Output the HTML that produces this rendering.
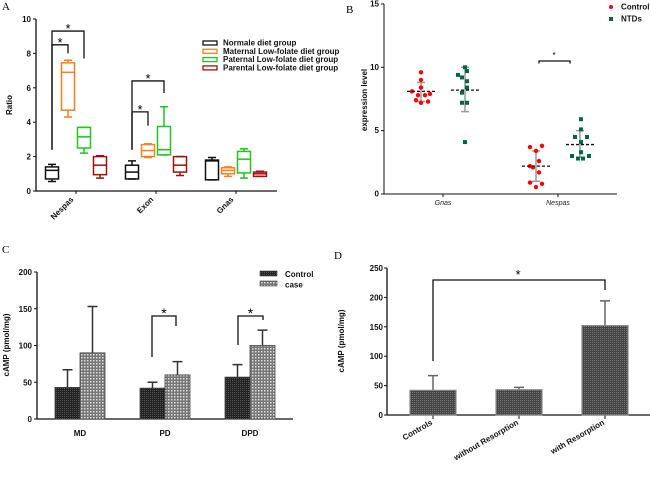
<!DOCTYPE html>
<html><head><meta charset="utf-8"><style>
body{margin:0;background:#fff}
svg{display:block;font-family:"Liberation Sans",Arial,sans-serif}
.t{font-size:8px;font-weight:bold;fill:#111}
.s{fill:none;stroke:#111;stroke-width:1.3}
</style></head><body>
<svg id="fig" width="650" height="482" viewBox="0 0 650 482" xmlns="http://www.w3.org/2000/svg">
<defs>
<pattern id="pdark" width="2" height="2" patternUnits="userSpaceOnUse"><rect width="2" height="2" fill="#222"/><rect width="1" height="1" fill="#555"/></pattern>
<pattern id="plight" width="3" height="3" patternUnits="userSpaceOnUse"><rect width="3" height="3" fill="#777"/><rect width="1.5" height="1.5" fill="#ddd"/></pattern>
<pattern id="pmid" width="2" height="2" patternUnits="userSpaceOnUse"><rect width="2" height="2" fill="#444"/><rect width="1" height="1" fill="#777"/></pattern>
</defs>
<g id="A"></g>
<g id="B"></g>
<g id="C"></g>
<g id="D"></g>
</svg>
<script>
// ---- Panel A data
const aCategories=["Nespas","Exon","Gnas"];
const aGroups=["Normale diet group","Maternal Low-folate diet group","Paternal Low-folate diet group","Parental Low-folate diet group"];
const aTicks=[0,2,4,6,8,10];
const aNespas=[[0.55,0.7,1.2,1.4,1.55],[4.3,4.7,6.9,7.45,7.6],[2.2,2.5,3.15,3.7,3.7],[0.75,0.95,1.5,2.0,2.05]];
const aExon=[[0.7,0.7,1.1,1.5,1.75],[1.95,2.0,2.35,2.7,2.75],[2.1,2.1,2.4,3.75,4.9],[0.9,1.1,1.5,2.0,2.0]];
const aGnas=[[0.65,0.65,1.75,1.8,1.95],[0.85,1.0,1.2,1.35,1.4],[0.75,1.05,1.85,2.3,2.45],[0.85,0.85,1.0,1.1,1.15]];
// ---- Panel B data
const bCategories=["Gnas","Nespas"];
const bSeries=["Control","NTDs"];
const bTicks=[0,5,10,15];
const bGnasControl=[8.1,9.6,9.0,8.4,7.8,7.8,7.9,7.4,7.2,7.3];
const bGnasNTDs=[10,9.7,9.4,9.2,8.9,8.4,8.0,7.2,7.2,4.1];
const bNespasControl=[3.7,3.8,3.4,2.6,2.2,2.1,1.7,0.9,0.8,0.55];
const bNespasNTDs=[5.9,5.1,4.5,4.5,4.1,3.3,3.0,3.0,2.8,2.8];
const bMeans=[[8.1,8.2],[2.2,3.9]];
const bErrLow=[[7.3,6.5],[1.0,2.9]];
const bErrHigh=[[8.8,10],[3.4,5.0]];
// ---- Panel C data
const cCategories=["MD","PD","DPD"];
const cSeries=["Control","case"];
const cTicks=[0,50,100,150,200];
const cControl=[43,42,57];
const cControlErr=[67,50,74];
const cCase=[90,60,100];
const cCaseErr=[153,78,121];
// ---- Panel D data
const dCategories=["Controls","without Resorption","with Resorption"];
const dTicks=[0,50,100,150,200,250];
const dValues=[42,43,152];
const dErr=[67,47,194];

const NS="http://www.w3.org/2000/svg";
function mk(p,tag,attrs,txt){const e=document.createElementNS(NS,tag);for(const k in attrs)e.setAttribute(k,attrs[k]);if(txt!==undefined)e.textContent=txt;p.appendChild(e);return e;}

// ===== Panel A
(function(){
const g=document.getElementById('A');
const y=v=>191-v*17.2, x0=36, x1=277;
const cx=i=>76+i*80, off=[-24,-8,8,24], cols=["#111","#ff7f1e","#22c422","#a01010"];
let t=mk(g,'text',{x:2,y:10,'font-family':'Liberation Serif',"font-size":11},"A");

let ax=mk(g,'path',{d:`M${x0} ${y(10)}V191H${x1}`,class:'s'});

aTicks.forEach(v=>{mk(g,'line',{x1:x0-3,x2:x0,y1:y(v),y2:y(v),stroke:'#111'});
 let l=mk(g,'text',{x:x0-5,y:y(v)+3,'text-anchor':'end',class:'t'},v);
 });
let yl=mk(g,'text',{x:12,y:105,transform:'rotate(-90 12 105)','text-anchor':'middle',class:'t','font-size':9},"Ratio");

const data=[aNespas,aExon,aGnas];
aCategories.forEach((c,i)=>{
 mk(g,'line',{x1:cx(i),x2:cx(i),y1:191,y2:194,stroke:'#111'});
 let l=mk(g,'text',{x:cx(i)-2,y:200,transform:`rotate(-45 ${cx(i)-2} 200)`,'text-anchor':'end',class:'t'},c);
 
 data[i].forEach((b,j)=>{
  const xc=cx(i)+off[j],w=13,col=cols[j];
  const bg=mk(g,'g',{stroke:col,'stroke-width':1.5,fill:'none'});
  
  mk(bg,'path',{d:`M${xc} ${y(b[0])}V${y(b[1])}M${xc} ${y(b[3])}V${y(b[4])}M${xc-4} ${y(b[0])}H${xc+4}M${xc-4} ${y(b[4])}H${xc+4}`});
  mk(bg,'rect',{x:xc-w/2,y:y(b[3]),width:w,height:Math.max(0.5,y(b[1])-y(b[3]))});
  mk(bg,'line',{x1:xc-w/2,x2:xc+w/2,y1:y(b[2]),y2:y(b[2])});
 });
});
function br(xa,xb,yt,ya,yb){let p=mk(g,'path',{d:`M${xa} ${y(ya)}V${y(yt)}H${xb}V${y(yb)}`,class:'s'});
 
 mk(g,'text',{x:(xa+xb)/2,y:y(yt)+2,'text-anchor':'middle','font-size':13},"*");}
br(cx(0)-24,cx(0)+8,9.3,2.4,7.7);br(cx(0)-24,cx(0)-8,8.5,2.4,8.0);
br(cx(1)-24,cx(1)+8,6.4,2.4,5.7);br(cx(1)-24,cx(1)-8,4.6,2.4,3.8);
const lg=mk(g,'g',{});
aGroups.forEach((n,j)=>{const yy=43+j*8.3;
 mk(lg,'rect',{x:203,y:yy-2,width:14,height:4,fill:'none',stroke:cols[j],'stroke-width':1.3});
 let e=mk(lg,'text',{x:223,y:yy+2.5,class:'t','font-size':6.8},n);
 });
})();

// ===== Panel B
(function(){
const g=document.getElementById('B');
const y=v=>194-v*12.67, x0=384, x1=617;
mk(g,'text',{x:346,y:13,'font-family':'Liberation Serif','font-size':11},"B");
let ax=mk(g,'path',{d:`M${x0} 4V194H${x1}`,stroke:'#111',fill:'none'});

bTicks.forEach(v=>{mk(g,'line',{x1:x0-3,x2:x0,y1:y(v),y2:y(v),stroke:'#111'});
 let l=mk(g,'text',{x:x0-5,y:y(v)+2.5,'text-anchor':'end',class:'t','font-size':6.5},v);
 });
let yl=mk(g,'text',{x:367,y:100,transform:'rotate(-90 367 100)','text-anchor':'middle',class:'t','font-size':7},"expression level");

const cx=i=>443+i*115, so=[-22,22];
const pts=[[bGnasControl,bGnasNTDs],[bNespasControl,bNespasNTDs]];
const jit=[[[-9,0,0,0,-3,4,9,-5,0,7],[0,2,-7,-3,2,2,-3,-3,2,0]],[[-6,6,0,3,-6,-3,3,-6,6,0],[1,1,-5,7,1,1,-8,9,-2,3]]];
bCategories.forEach((c,i)=>{
 mk(g,'line',{x1:cx(i),x2:cx(i),y1:194,y2:197,stroke:'#111'});
 let l=mk(g,'text',{x:cx(i),y:205,'text-anchor':'middle','font-size':7,'font-style':'italic',fill:'#222'},c);
 
 [0,1].forEach(s=>{const xc=cx(i)+so[s];
  let e=mk(g,'path',{d:`M${xc} ${y(bErrLow[i][s])}V${y(bErrHigh[i][s])}M${xc-4} ${y(bErrLow[i][s])}H${xc+4}M${xc-4} ${y(bErrHigh[i][s])}H${xc+4}`,stroke:'#999','stroke-width':1.5});
  
  pts[i][s].forEach((v,k)=>{const px=xc+jit[i][s][k];
   let p=s==0?mk(g,'circle',{cx:px,cy:y(v),r:2.2,fill:'#f00'}):mk(g,'rect',{x:px-2,y:y(v)-2,width:4,height:4,fill:'#064'});
   });
  let m=mk(g,'line',{x1:xc-14,x2:xc+14,y1:y(bMeans[i][s]),y2:y(bMeans[i][s]),stroke:'#111','stroke-width':1.3,'stroke-dasharray':'3,2'});
  
 });
});
let b=mk(g,'path',{d:`M539 ${y(10.3)}V${y(10.5)}H570V${y(10.3)}`,class:'s'});

mk(g,'text',{x:554,y:58,'text-anchor':'middle','font-size':8},"*");
const lg=mk(g,'g',{});
mk(lg,'circle',{cx:611,cy:7,r:2,fill:'#f00'});mk(lg,'rect',{x:609,y:17,width:4,height:4,fill:'#064'});
bSeries.forEach((n,j)=>mk(lg,'text',{x:621,y:9.5+j*12,class:'t','font-size':6.5},n));
})();

// ===== Panel C
(function(){
const g=document.getElementById('C');
const y=v=>419-v*0.735, x0=37, x1=293;
mk(g,'text',{x:2,y:253,'font-family':'Liberation Serif','font-size':11},"C");
let ax=mk(g,'path',{d:`M${x0} ${y(200)}V419H${x1}`,stroke:'#111','stroke-width':1.3,fill:'none'});

cTicks.forEach(v=>{mk(g,'line',{x1:x0-3,x2:x0,y1:y(v),y2:y(v),stroke:'#111'});
 let l=mk(g,'text',{x:x0-5,y:y(v)+3,'text-anchor':'end',class:'t'},v);
 });
let yl=mk(g,'text',{x:9,y:345,transform:'rotate(-90 9 345)','text-anchor':'middle',class:'t','font-size':9},"cAMP (pmol/mg)");

const cx=i=>80+i*85, w=25;
cCategories.forEach((c,i)=>{
 let l=mk(g,'text',{x:cx(i),y:436,'text-anchor':'middle',class:'t','font-size':9},c);
 
 [[cControl,cControlErr,'url(#pdark)',-1],[cCase,cCaseErr,'url(#plight)',0]].forEach(([vals,errs,f,o])=>{
  const xl=cx(i)+o*w;
  let e=mk(g,'path',{d:`M${xl+w/2} ${y(vals[i])}V${y(errs[i])}M${xl+w/2-5} ${y(errs[i])}H${xl+w/2+5}`,stroke:'#333','stroke-width':1.5});
  
  let r=mk(g,'rect',{x:xl,y:y(vals[i]),width:w,height:419-y(vals[i]),fill:f,stroke:'#444','stroke-width':0.8});
  
 });
});
function br(xa,xb,yt,ya,yb){let p=mk(g,'path',{d:`M${xa} ${ya}V${yt}H${xb}V${yb}`,class:'s','stroke-width':1.6});
 
 mk(g,'text',{x:(xa+xb)/2,y:yt+2,'text-anchor':'middle','font-size':14},"*");}
br(152,176,316,357,326);br(238,263,316,345,320);
const lg=mk(g,'g',{});
mk(lg,'rect',{x:260,y:271,width:17,height:5,fill:'url(#pdark)',stroke:'#444','stroke-width':0.6});
mk(lg,'rect',{x:260,y:281,width:17,height:5,fill:'url(#plight)',stroke:'#444','stroke-width':0.6});
cSeries.forEach((n,j)=>mk(lg,'text',{x:285,y:277+j*10.5,class:'t'},n));
})();

// ===== Panel D
(function(){
const g=document.getElementById('D');
const y=v=>415-v*0.588, x0=387, x1=650;
mk(g,'text',{x:334,y:259,'font-family':'Liberation Serif','font-size':11},"D");
let ax=mk(g,'path',{d:`M${x0} ${y(250)}V415H${x1}`,stroke:'#111','stroke-width':1.3,fill:'none'});

dTicks.forEach(v=>{mk(g,'line',{x1:x0-3,x2:x0,y1:y(v),y2:y(v),stroke:'#111'});
 let l=mk(g,'text',{x:x0-4,y:y(v)+3,'text-anchor':'end',class:'t'},v);
 });
let yl=mk(g,'text',{x:344,y:341,transform:'rotate(-90 344 341)','text-anchor':'middle',class:'t'},"cAMP (pmol/mg)");

const cx=i=>433+i*86, w=46;
dCategories.forEach((c,i)=>{
 mk(g,'line',{x1:cx(i),x2:cx(i),y1:415,y2:419,stroke:'#111'});
 let l=mk(g,'text',{x:cx(i),y:424,transform:`rotate(-30 ${cx(i)} 424)`,'text-anchor':'end',class:'t'},c);
 
 let e=mk(g,'path',{d:`M${cx(i)} ${y(dValues[i])}V${y(dErr[i])}M${cx(i)-5} ${y(dErr[i])}H${cx(i)+5}`,stroke:'#666','stroke-width':1.5});
 
 let r=mk(g,'rect',{x:cx(i)-w/2,y:y(dValues[i]),width:w,height:415-y(dValues[i]),fill:'url(#pmid)',stroke:'#888','stroke-width':1.2});
 
});
let p=mk(g,'path',{d:`M${cx(0)} 361V280H${cx(2)}V290`,class:'s'});

mk(g,'text',{x:518,y:279,'text-anchor':'middle','font-size':13},"*");
})();
</script>
</body></html>
